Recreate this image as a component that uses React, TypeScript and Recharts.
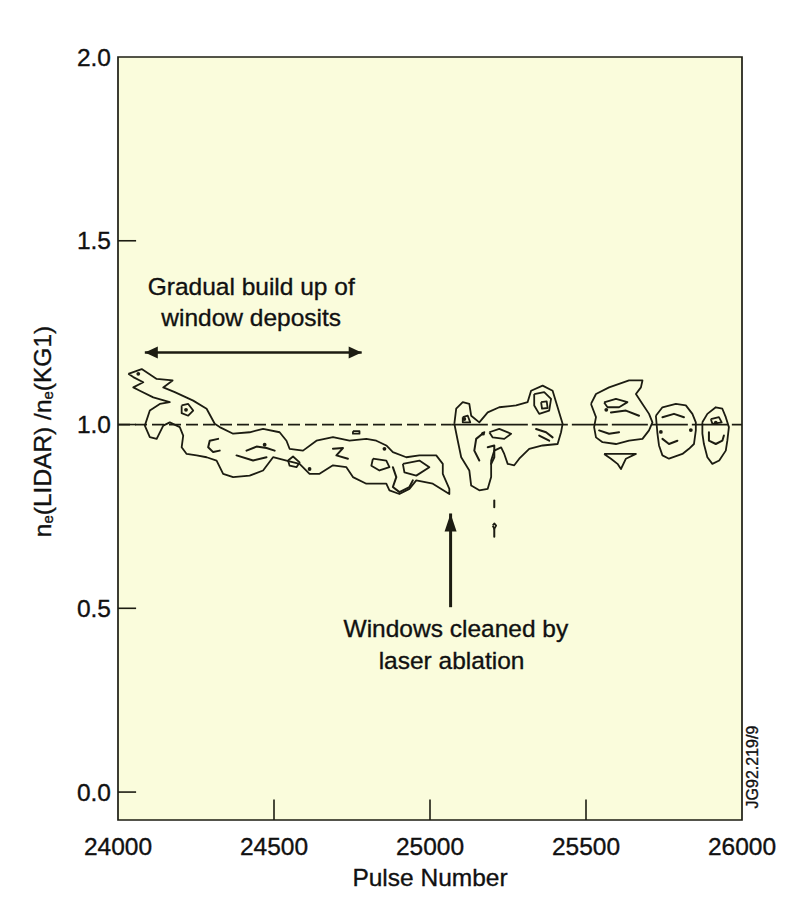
import React from 'react';
import {
  ComposedChart,
  XAxis,
  YAxis,
  Scatter,
  ReferenceLine,
  ReferenceArea,
  ReferenceDot,
} from 'recharts';

// ---------- axes ----------
const pulseTicks = [24000, 24500, 25000, 25500, 26000];
const ratioTicks = [0, 0.5, 1, 1.5, 2];
const pulseDomain: [number, number] = [24000, 26000];
const ratioDomain: [number, number] = [-0.076, 2];

// ---------- contour loops (pulse number, ne ratio) ----------
const buildUpOuter: [number, number][] = [
  [24033, 1.138], [24076, 1.151], [24124, 1.124], [24175, 1.12], [24145, 1.101], [24182, 1.088],
  [24241, 1.065], [24284, 1.043], [24310, 1.002], [24326, 0.993], [24369, 0.975], [24422, 0.979],
  [24465, 0.988], [24518, 0.979], [24540, 0.956], [24550, 0.934], [24593, 0.929], [24636, 0.956],
  [24689, 0.966], [24742, 0.956], [24796, 0.961], [24828, 0.956], [24860, 0.943], [24881, 0.925],
  [24924, 0.911], [24966, 0.916], [25020, 0.916], [25041, 0.893], [25041, 0.866], [25062, 0.825],
  [25062, 0.811], [25009, 0.839], [24956, 0.848], [24934, 0.825], [24902, 0.811], [24870, 0.821],
  [24860, 0.839], [24796, 0.839], [24753, 0.857], [24732, 0.884], [24689, 0.889], [24646, 0.866],
  [24614, 0.866], [24582, 0.893], [24540, 0.902], [24497, 0.911], [24465, 0.875], [24422, 0.861],
  [24369, 0.857], [24337, 0.866], [24316, 0.902], [24284, 0.911], [24252, 0.916], [24220, 0.92],
  [24204, 0.938], [24209, 0.97], [24198, 0.993], [24166, 1.006], [24145, 0.997], [24124, 0.961],
  [24102, 0.966], [24086, 0.997], [24102, 1.038], [24134, 1.056], [24166, 1.061], [24113, 1.074],
  [24070, 1.092], [24049, 1.101], [24081, 1.115], [24049, 1.129],
];
const buildUpRing: [number, number][] = [
  [24204, 1.052], [24225, 1.056], [24241, 1.038], [24225, 1.024], [24204, 1.031],
];
const buildUpOval: [number, number][] = [
  [24817, 0.907], [24860, 0.902], [24870, 0.884], [24838, 0.875], [24812, 0.888],
];
const buildUpDiamond: [number, number][] = [
  [24545, 0.902], [24561, 0.913], [24582, 0.897], [24572, 0.884], [24550, 0.888],
];
const buildUpSmall: [number, number][] = [
  [24753, 0.982], [24774, 0.982], [24774, 0.975], [24753, 0.975],
];
const buildUpRight: [number, number][] = [
  [24913, 0.893], [24966, 0.902], [24998, 0.884], [24956, 0.861], [24918, 0.87],
];
const recoveryOuter: [number, number][] = [
  [25078, 1.002], [25084, 1.043], [25105, 1.061], [25126, 1.056], [25132, 1.024], [25158, 1.006],
  [25185, 1.033], [25222, 1.047], [25276, 1.052], [25313, 1.061], [25324, 1.092], [25361, 1.106],
  [25393, 1.092], [25409, 1.047], [25425, 1.002], [25420, 0.979], [25409, 0.947], [25361, 0.943],
  [25318, 0.934], [25286, 0.907], [25270, 0.889], [25249, 0.893], [25238, 0.92], [25228, 0.938],
  [25206, 0.929], [25196, 0.902], [25196, 0.857], [25185, 0.825], [25158, 0.821], [25132, 0.834],
  [25126, 0.875], [25100, 0.911], [25089, 0.956],
];
const recoveryEye: [number, number][] = [
  [25334, 1.083], [25366, 1.088], [25388, 1.07], [25382, 1.038], [25350, 1.029], [25334, 1.052],
];
const recoveryEyeInner: [number, number][] = [
  [25356, 1.061], [25374, 1.063], [25377, 1.045], [25359, 1.043],
];
const recoveryBlob: [number, number][] = [
  [25190, 0.979], [25222, 0.988], [25260, 0.975], [25238, 0.961], [25201, 0.965],
];
const recoveryPeak: [number, number][] = [
  [25105, 1.02], [25121, 1.024], [25129, 1.006], [25105, 1.006],
];
const isolatedRing: [number, number][] = [
  [25201, 0.725], [25206, 0.731], [25212, 0.725], [25206, 0.716],
];
const peakOuter: [number, number][] = [
  [25516, 1.056], [25532, 1.083], [25574, 1.101], [25638, 1.12], [25681, 1.12], [25676, 1.101],
  [25660, 1.083], [25681, 1.056], [25702, 1.029], [25713, 1.006], [25702, 0.984], [25681, 0.961],
  [25638, 0.956], [25596, 0.947], [25553, 0.952], [25532, 0.965], [25526, 0.993], [25532, 1.02],
];
const peakEye: [number, number][] = [
  [25558, 1.06], [25596, 1.07], [25633, 1.061], [25606, 1.047], [25569, 1.047],
];
const peakDip: [number, number][] = [
  [25558, 0.92], [25660, 0.92], [25628, 0.907], [25612, 0.879], [25601, 0.893], [25580, 0.907],
];
const fourthOuter: [number, number][] = [
  [25724, 1.024], [25745, 1.047], [25788, 1.056], [25820, 1.052], [25841, 1.029], [25852, 1.006],
  [25852, 0.984], [25846, 0.947], [25830, 0.934], [25809, 0.92], [25766, 0.907], [25745, 0.916],
  [25734, 0.943], [25729, 0.975],
];
const fifthOuter: [number, number][] = [
  [25873, 1.006], [25889, 1.029], [25916, 1.047], [25937, 1.043], [25948, 1.02], [25958, 0.993],
  [25953, 0.956], [25948, 0.929], [25927, 0.902], [25905, 0.893], [25889, 0.911], [25878, 0.947],
  [25873, 0.975],
];
const fifthTop: [number, number][] = [
  [25900, 1.015], [25926, 1.02], [25935, 1.006], [25905, 1.002],
];

// ---------- open contour fragments ----------
const buildUpHook: [number, number][] = [
  [24321, 0.961], [24294, 0.956], [24289, 0.938], [24305, 0.925], [24326, 0.929],
];
const buildUpStrokeA: [number, number][] = [
  [24412, 0.929], [24444, 0.94], [24476, 0.936], [24502, 0.929],
];
const buildUpStrokeB: [number, number][] = [[24380, 0.916], [24433, 0.902], [24476, 0.911]];
const buildUpZig: [number, number][] = [
  [24689, 0.934], [24721, 0.936], [24700, 0.916], [24737, 0.907],
];
const buildUpTail: [number, number][] = [
  [24881, 0.884], [24892, 0.857], [24881, 0.83], [24902, 0.816], [24934, 0.83], [24945, 0.848],
];
const recoveryLeft: [number, number][] = [
  [25174, 0.979], [25148, 0.961], [25142, 0.929], [25158, 0.902],
];
const recoveryMid: [number, number][] = [
  [25185, 0.938], [25206, 0.943], [25206, 0.911], [25196, 0.893],
];
const recoveryRightA: [number, number][] = [[25340, 0.988], [25372, 0.979], [25393, 0.965]];
const recoveryRightB: [number, number][] = [[25350, 0.97], [25382, 0.956]];
const isolatedTick: [number, number][] = [[25206, 0.793], [25206, 0.775]];
const isolatedStem: [number, number][] = [[25206, 0.716], [25206, 0.695]];
const peakInnerA: [number, number][] = [[25580, 1.033], [25628, 1.038], [25670, 1.024]];
const peakInnerB: [number, number][] = [[25542, 0.984], [25574, 0.975], [25606, 0.979]];
const fourthInnerA: [number, number][] = [[25745, 1.02], [25782, 1.029], [25814, 1.02]];
const fourthInnerB: [number, number][] = [[25745, 0.961], [25766, 0.947], [25793, 0.956]];
const fifthInner: [number, number][] = [
  [25894, 0.979], [25894, 0.956], [25916, 0.947], [25937, 0.956], [25942, 0.97],
];

// small filled spots inside the contours
const contourSpots: [number, number][] = [
  [24065, 1.138], [24218, 1.04], [24854, 0.934], [24614, 0.879], [25110, 1.015],
  [25565, 1.04], [25740, 0.98], [25836, 0.985], [25916, 1.005], [25170, 0.975], [24470, 0.945],
];

// ---------- annotations ----------
const buildUpArrow: [number, number][] = [[24086, 1.196], [24781, 1.196]];
const cleanArrow: [number, number][] = [[25066, 0.503], [25066, 0.758]];
const buildUpText = ['Gradual build up of', 'window deposits'];
const buildUpTextPos: [number, number][] = [[24427, 1.375], [24427, 1.291]];
const cleanText = ['Windows cleaned by', 'laser ablation'];
const cleanTextPos: [number, number][] = [[25083, 0.446], [25069, 0.359]];
const unityLevel = 1.0;
const unityDashEnd = 25070;
const figureCode = 'JG92.219/9';
const figureCodePos: [number, number] = [26032, 0.068];

const closedContours = [
  buildUpOuter, buildUpRing, buildUpOval, buildUpDiamond, buildUpSmall, buildUpRight,
  recoveryOuter, recoveryEye, recoveryEyeInner, recoveryBlob, recoveryPeak, isolatedRing,
  peakOuter, peakEye, peakDip, fourthOuter, fifthOuter, fifthTop,
];
const openContours = [
  buildUpHook, buildUpStrokeA, buildUpStrokeB, buildUpZig, buildUpTail, recoveryLeft,
  recoveryMid, recoveryRightA, recoveryRightB, isolatedTick, isolatedStem, peakInnerA,
  peakInnerB, fourthInnerA, fourthInnerB, fifthInner,
];

const INK = '#1c1c12';
const TEXT = '#111';
const PLOT_BG = '#fafcdc';
const FONT = '"Liberation Sans", Arial, Helvetica, sans-serif';
const FS = 24.5;
const TEXT_STROKE = { stroke: TEXT, strokeWidth: 0.35 };
const Y_TICK_LEN = 58; // pulse units
const X_TICK_LEN = 0.056; // ratio units

const toPoints = (pairs: [number, number][], closed = false) => {
  const pts = pairs.map(([x, y]) => ({ x, y }));
  if (closed && pts.length) pts.push({ ...pts[0] });
  return pts;
};

const NoMark = () => <g />;
const Spot = (p: any) => <circle cx={p.cx} cy={p.cy} r={1.9} fill={INK} />;
const HeadLeft = (p: any) => (
  <polygon points={`${p.cx},${p.cy} ${p.cx + 13},${p.cy - 6} ${p.cx + 13},${p.cy + 6}`} fill={INK} />
);
const HeadRight = (p: any) => (
  <polygon points={`${p.cx},${p.cy} ${p.cx - 13},${p.cy - 6} ${p.cx - 13},${p.cy + 6}`} fill={INK} />
);
const HeadUp = (p: any) => (
  <polygon points={`${p.cx},${p.cy} ${p.cx - 6},${p.cy + 18} ${p.cx + 6},${p.cy + 18}`} fill={INK} />
);

const YLabel = (props: any) => {
  const vb = props.viewBox || { x: 10, y: 49, width: 100, height: 763 };
  const cx = vb.x + 24;
  const cy = vb.y + vb.height / 2 - 7;
  return (
    <text
      x={cx}
      y={cy}
      transform={`rotate(-90 ${cx} ${cy})`}
      textAnchor="middle"
      dominantBaseline="central"
      fontSize={FS}
      fill={TEXT}
      stroke={TEXT}
      strokeWidth={0.35}
      fontFamily={FONT}
    >
      n<tspan fontSize={15} dy={5}>e</tspan>
      <tspan dy={-5}>(LIDAR) /n</tspan>
      <tspan fontSize={15} dy={5}>e</tspan>
      <tspan dy={-5}>(KG1)</tspan>
    </text>
  );
};

const seg = (pairs: [number, number][]) => pairs.map(([x, y]) => ({ x, y }));

export default function App() {
  return (
    <ComposedChart
      width={781}
      height={900}
      margin={{ top: 49, right: 47, left: 10, bottom: 8 }}
      style={{ fontFamily: FONT }}
    >
      <XAxis
        type="number"
        dataKey="x"
        domain={pulseDomain}
        ticks={pulseTicks}
        allowDataOverflow
        axisLine={false}
        tickLine={false}
        tickSize={0}
        tickMargin={18}
        height={80}
        tick={{ fontSize: FS, fill: TEXT, fontFamily: FONT, ...TEXT_STROKE }}
        label={{ value: 'Pulse Number', position: 'insideBottom', offset: 14, fontSize: FS, fill: TEXT, fontFamily: FONT, ...TEXT_STROKE }}
      />
      <YAxis
        type="number"
        dataKey="y"
        domain={ratioDomain}
        ticks={ratioTicks}
        allowDataOverflow
        axisLine={false}
        tickLine={false}
        tickSize={0}
        tickMargin={7}
        width={100}
        tickFormatter={(v: number) => v.toFixed(1)}
        tick={{ fontSize: FS, fill: TEXT, fontFamily: FONT, ...TEXT_STROKE }}
        label={{ content: YLabel }}
      />
      <ReferenceArea
        x1={pulseDomain[0]}
        x2={pulseDomain[1]}
        y1={ratioDomain[0]}
        y2={ratioDomain[1]}
        fill={PLOT_BG}
        fillOpacity={1}
        stroke={INK}
        strokeWidth={1.7}
      />
      {ratioTicks.slice(0, 4).map((v) => (
        <ReferenceLine
          key={'yt' + v}
          segment={[{ x: pulseDomain[0], y: v }, { x: pulseDomain[0] + Y_TICK_LEN, y: v }]}
          stroke={INK}
          strokeWidth={1.6}
        />
      ))}
      {pulseTicks.slice(1, 4).map((v) => (
        <ReferenceLine
          key={'xt' + v}
          segment={[{ x: v, y: ratioDomain[0] }, { x: v, y: ratioDomain[0] + X_TICK_LEN }]}
          stroke={INK}
          strokeWidth={1.6}
        />
      ))}
      <ReferenceLine
        segment={[{ x: pulseDomain[0], y: unityLevel }, { x: unityDashEnd, y: unityLevel }]}
        stroke={INK}
        strokeWidth={1.7}
        strokeDasharray="12 5"
      />
      <ReferenceLine
        segment={[{ x: unityDashEnd, y: unityLevel }, { x: pulseDomain[1], y: unityLevel }]}
        stroke={INK}
        strokeWidth={1.7}
        strokeDasharray="36 4"
      />
      <ReferenceLine segment={seg(buildUpArrow)} stroke={INK} strokeWidth={2.5} />
      <ReferenceLine segment={seg(cleanArrow)} stroke={INK} strokeWidth={3} />
      {closedContours.map((c, i) => (
        <Scatter
          key={'cc' + i}
          data={toPoints(c, true)}
          fill={INK}
          line={{ stroke: INK, strokeWidth: 1.8, strokeLinejoin: 'round' }}
          shape={NoMark}
          isAnimationActive={false}
        />
      ))}
      {openContours.map((c, i) => (
        <Scatter
          key={'oc' + i}
          data={toPoints(c)}
          fill={INK}
          line={{ stroke: INK, strokeWidth: 2, strokeLinejoin: 'round', strokeLinecap: 'round' }}
          shape={NoMark}
          isAnimationActive={false}
        />
      ))}
      <Scatter data={toPoints(contourSpots)} fill={INK} shape={Spot} isAnimationActive={false} />
      <Scatter data={toPoints([buildUpArrow[0]])} fill={INK} shape={HeadLeft} isAnimationActive={false} />
      <Scatter data={toPoints([buildUpArrow[1]])} fill={INK} shape={HeadRight} isAnimationActive={false} />
      <Scatter data={toPoints([cleanArrow[1]])} fill={INK} shape={HeadUp} isAnimationActive={false} />
      {buildUpText.map((t, i) => (
        <ReferenceDot
          key={'bt' + i}
          x={buildUpTextPos[i][0]}
          y={buildUpTextPos[i][1]}
          r={0}
          stroke="none"
          label={{ value: t, position: 'center', fontSize: FS, fill: TEXT, fontFamily: FONT, ...TEXT_STROKE }}
        />
      ))}
      {cleanText.map((t, i) => (
        <ReferenceDot
          key={'ct' + i}
          x={cleanTextPos[i][0]}
          y={cleanTextPos[i][1]}
          r={0}
          stroke="none"
          label={{ value: t, position: 'center', fontSize: FS, fill: TEXT, fontFamily: FONT, ...TEXT_STROKE }}
        />
      ))}
      <ReferenceDot
        x={figureCodePos[0]}
        y={figureCodePos[1]}
        r={0}
        stroke="none"
        ifOverflow="visible"
        label={{ value: figureCode, position: 'center', angle: -90, fontSize: 16, fill: TEXT, fontFamily: FONT, ...TEXT_STROKE }}
      />
    </ComposedChart>
  );
}
